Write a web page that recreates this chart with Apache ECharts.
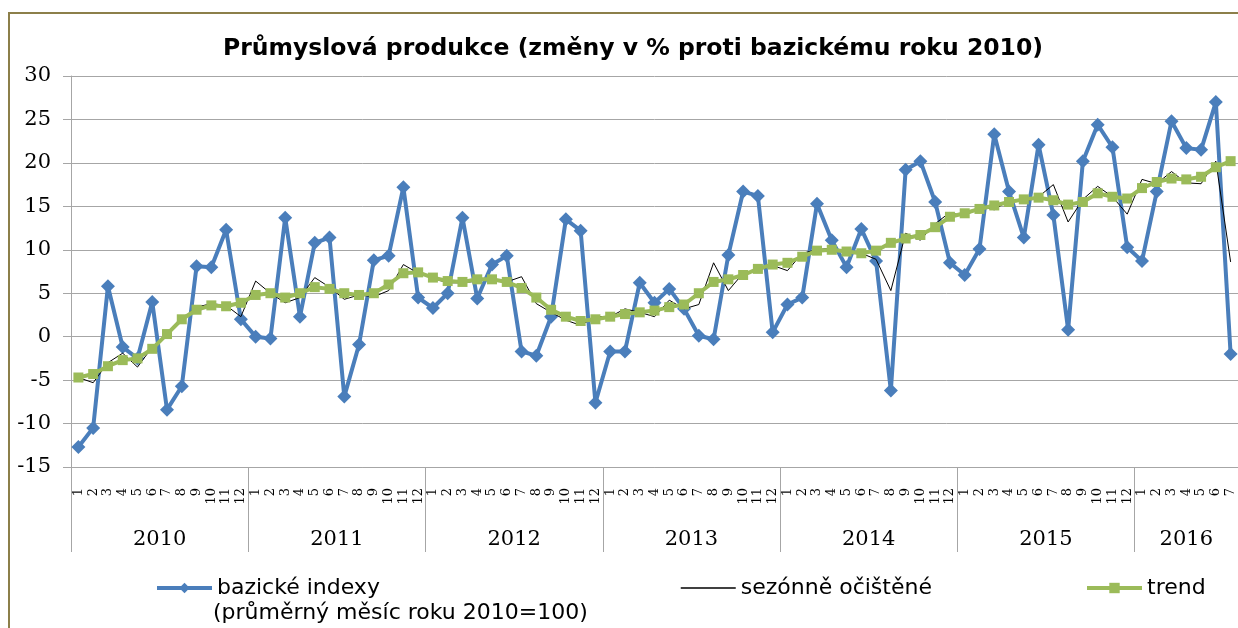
<!DOCTYPE html>
<html>
<head>
<meta charset="utf-8">
<script src="https://cdn.jsdelivr.net/npm/echarts@6/dist/echarts.min.js"></script>
<style>
  html, body { margin: 0; padding: 0; background: #fff; }
  #chart { width: 1238px; height: 628px; }
</style>
</head>
<body>
<div id="chart"></div>
<script>
// tick labels
var years = ['2010', '2011', '2012', '2013', '2014', '2015', '2016'];
var monthsPerYear = [12, 12, 12, 12, 12, 12, 7];
var monthLabels = ['1', '2', '3', '4', '5', '6', '7', '8', '9', '10', '11', '12'];

// bazické indexy (průměrný měsíc roku 2010=100), % změna
var bazicke = [
  -12.7, -10.5, 5.8, -1.2, -2.5, 4.0, -8.4, -5.7, 8.1, 8.0, 12.3, 2.0,
  0.0, -0.2, 13.7, 2.3, 10.8, 11.4, -6.9, -0.9, 8.8, 9.3, 17.2, 4.5,
  3.3, 5.0, 13.7, 4.4, 8.3, 9.3, -1.7, -2.2, 2.3, 13.5, 12.2, -7.6,
  -1.7, -1.7, 6.2, 3.9, 5.5, 3.2, 0.1, -0.3, 9.4, 16.7, 16.2, 0.5,
  3.7, 4.5, 15.3, 11.1, 8.0, 12.4, 8.7, -6.2, 19.2, 20.2, 15.5, 8.5,
  7.1, 10.1, 23.3, 16.7, 11.4, 22.1, 14.0, 0.8, 20.2, 24.4, 21.8, 10.3,
  8.7, 16.7, 24.8, 21.7, 21.5, 27.0, -2.0
];

// sezónně očištěné
var sezonne = [
  -4.7, -5.3, -3.0, -1.9, -3.5, -1.2, 0.3, 2.0, 3.4, 3.8, 3.6, 2.3,
  6.4, 5.0, 3.9, 4.5, 6.8, 5.7, 4.3, 4.8, 4.6, 5.3, 8.3, 7.3,
  6.7, 6.2, 6.2, 6.4, 6.7, 6.3, 6.9, 3.8, 2.8, 1.9, 1.3, 2.3,
  2.3, 3.2, 2.8, 2.3, 4.2, 3.2, 3.7, 8.5, 5.3, 7.3, 7.6, 8.2,
  7.6, 9.6, 10.0, 10.2, 9.6, 9.6, 8.9, 5.3, 11.9, 11.1, 13.0, 14.3,
  13.8, 15.0, 14.6, 15.7, 15.5, 16.1, 17.5, 13.2, 15.8, 17.3, 16.1, 14.1,
  18.1, 17.6, 19.0, 17.7, 17.6, 20.2, 8.6
];

// trend
var trend = [
  -4.7, -4.3, -3.4, -2.7, -2.5, -1.4, 0.3, 2.0, 3.1, 3.6, 3.5, 3.9,
  4.8, 5.0, 4.5, 5.0, 5.7, 5.5, 5.0, 4.8, 5.0, 6.0, 7.3, 7.4,
  6.8, 6.4, 6.3, 6.6, 6.6, 6.3, 5.6, 4.5, 3.1, 2.3, 1.8, 2.0,
  2.3, 2.6, 2.8, 3.0, 3.4, 3.7, 5.0, 6.3, 6.6, 7.1, 7.8, 8.3,
  8.5, 9.2, 9.9, 10.0, 9.8, 9.6, 9.9, 10.8, 11.3, 11.7, 12.6, 13.8,
  14.2, 14.7, 15.1, 15.5, 15.8, 16.0, 15.7, 15.2, 15.5, 16.5, 16.1, 15.9,
  17.1, 17.8, 18.2, 18.1, 18.4, 19.5, 20.2
];

var categories = [];
var yearStarts = [];
var yearMiddles = [];
var total = 0;
for (var y = 0; y < years.length; y++) {
  yearStarts.push(total);
  yearMiddles.push(total + monthsPerYear[y] / 2);
  for (var m = 0; m < monthsPerYear[y]; m++) {
    categories.push(monthLabels[m]);
  }
  total += monthsPerYear[y];
}

var gridColor = '#a6a6a6';
var serif = '"DejaVu Serif", "Liberation Serif", serif';
var sans = '"DejaVu Sans", "Noto Sans", sans-serif';
var legendText = { fontFamily: sans, fontSize: 22, color: '#000' };

var chart = echarts.init(document.getElementById('chart'));

chart.setOption({
  backgroundColor: '#fff',
  animation: false,
  title: [{
    text: 'Průmyslová produkce (změny v % proti bazickému roku 2010)',
    left: 628,
    top: 32,
    textAlign: 'center',
    textStyle: { fontFamily: sans, fontSize: 23.5, fontWeight: 'bold', color: '#000' }
  }, {
    // second line of the first legend entry
    text: '(průměrný měsíc roku 2010=100)',
    left: 213,
    top: 602,
    padding: 0,
    textStyle: { fontFamily: sans, fontSize: 22, fontWeight: 'normal', color: '#000' }
  }],
  legend: [{
    data: [{ name: 'bazické indexy', lineStyle: { width: 4 } }],
    left: 155, top: 577, padding: 0,
    itemWidth: 55, itemHeight: 13,
    textStyle: legendText
  }, {
    data: [{ name: 'sezónně očištěné', itemStyle: { opacity: 0 }, lineStyle: { width: 1.5 } }],
    left: 680, top: 577, padding: 0,
    itemWidth: 55, itemHeight: 13,
    textStyle: legendText
  }, {
    data: [{ name: 'trend', lineStyle: { width: 4 } }],
    left: 1085, top: 577, padding: 0,
    itemWidth: 55, itemHeight: 13,
    textStyle: legendText
  }],
  grid: { left: 71, right: -4, top: 76, bottom: 161, containLabel: false },
  xAxis: [{
    type: 'category',
    data: categories,
    boundaryGap: true,
    position: 'bottom',
    axisLine: { onZero: false, lineStyle: { color: gridColor, width: 1 } },
    axisTick: { interval: 0, length: 45, lineStyle: { color: gridColor } },
    axisLabel: { interval: 0, rotate: 90, margin: 21, fontFamily: serif, fontSize: 13, color: '#000' },
    splitLine: { show: false }
  }, {
    type: 'value',
    min: 0,
    max: total,
    position: 'bottom',
    axisLine: { show: false, onZero: false },
    axisTick: { show: true, customValues: yearStarts, length: 85, lineStyle: { color: gridColor } },
    axisLabel: {
      customValues: yearMiddles,
      margin: 62,
      fontFamily: serif, fontSize: 21, color: '#000',
      formatter: function (v) {
        return years[yearMiddles.indexOf(v)];
      }
    },
    splitLine: { show: false }
  }, {
    type: 'category',
    data: categories,
    boundaryGap: true,
    axisLine: { onZero: true, lineStyle: { color: gridColor, width: 1 } },
    axisTick: { interval: 0, length: 8, lineStyle: { color: gridColor } },
    axisLabel: { show: false },
    splitLine: { show: false }
  }],
  yAxis: {
    type: 'value',
    min: -15,
    max: 30,
    interval: 5,
    axisLine: { show: true, lineStyle: { color: gridColor, width: 1 } },
    axisTick: { show: true, length: 8, lineStyle: { color: gridColor } },
    axisLabel: { margin: 20, fontFamily: serif, fontSize: 21, color: '#000' },
    splitLine: { lineStyle: { color: gridColor, width: 1 } }
  },
  graphic: [{
    type: 'rect',
    shape: { x: 9, y: 13, width: 1300, height: 700 },
    style: { fill: 'none', stroke: '#8c7f4a', lineWidth: 2 },
    silent: true
  }],
  series: [{
    name: 'bazické indexy',
    type: 'line',
    data: bazicke,
    symbol: 'diamond',
    symbolSize: 14,
    lineStyle: { color: '#4a7ebb', width: 4 },
    itemStyle: { color: '#4a7ebb' },
    z: 2
  }, {
    name: 'sezónně očištěné',
    type: 'line',
    data: sezonne,
    symbol: 'none',
    lineStyle: { color: '#000', width: 1 },
    itemStyle: { color: '#000' },
    z: 3
  }, {
    name: 'trend',
    type: 'line',
    data: trend,
    symbol: 'rect',
    symbolSize: 10,
    lineStyle: { color: '#9bbb59', width: 4 },
    itemStyle: { color: '#9bbb59' },
    z: 4
  }]
});
</script>
</body>
</html>
